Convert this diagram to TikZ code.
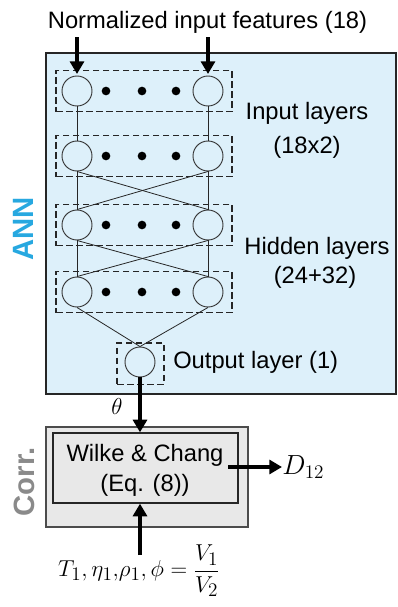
\documentclass[tikz,border=0pt]{standalone}
\usepackage[no-math]{fontspec}
\setmainfont{Liberation Sans}
\usetikzlibrary{arrows.meta}
\definecolor{annblue}{HTML}{DDF0FA}
\definecolor{annlabel}{HTML}{27A8E0}
\definecolor{corrgray}{HTML}{8A8A8A}
\definecolor{corrfill}{HTML}{E8E8E8}
\begin{document}
\begin{tikzpicture}[x=0.75pt,y=-0.75pt,
  lab/.style={font=\fontsize{17.8}{20}\selectfont, inner sep=0pt},
  neuron/.style={circle, draw=black!80, line width=0.7pt, minimum size=22.5pt, inner sep=0pt},
  dotn/.style={circle, fill=black, minimum size=6.5pt, inner sep=0pt},
  layerbox/.style={draw=black!85, line width=1pt, dash pattern=on 5pt off 2.5pt, minimum width=132pt, minimum height=31pt, inner sep=0pt},
  conn/.style={line width=0.6pt, draw=black!85},
  bigarrow/.style={line width=3pt, -{Triangle[width=10.5pt,length=9.5pt]}},
  sidelab/.style={font=\fontsize{22}{24}\selectfont\bfseries, rotate=90, inner sep=0pt},
  mathlab/.style={font=\fontsize{19}{22}\selectfont, inner sep=0pt}
]
\useasboundingbox (0,0) rectangle (398,607);
% ANN box
\node[draw=black!85, line width=1.1pt, fill=annblue, minimum width=262.5pt, minimum height=255.75pt, inner sep=0pt] (ann) at (221,223.5) {};
\node[sidelab, text=annlabel] (annlab) at (23,229) {ANN};
% title
\node[lab, anchor=base] (title) at (207.5,28) {Normalized input features (18)};
% layer boxes
\foreach \i/\y in {1/91,2/156,3/225,4/292}{
  \node[layerbox] (box\i) at (144,\y) {};
  \node[neuron] (l\i) at (77,\y) {};
  \node[neuron] (r\i) at (208,\y) {};
  \node[dotn] (da\i) at (106,\y) {};
  \node[dotn] (db\i) at (142,\y) {};
  \node[dotn] (dc\i) at (176,\y) {};
}
\node[layerbox, minimum width=35.25pt] (obox) at (140.5,363.5) {};
\node[neuron] (out) at (140,362) {};
% labels
\node[lab] (inlab1) at (307,113) {Input layers};
\node[lab] (inlab2) at (307,147) {(18x2)};
\node[lab] (hidlab1) at (317,248) {Hidden layers};
\node[lab] (hidlab2) at (315,277) {(24+32)};
\node[lab, anchor=west] (outlab) at (173,362) {Output layer (1)};
% connections
\draw[conn] (l1.south) -- (l2.north);
\draw[conn] (r1.south) -- (r2.north);
\foreach \a/\b in {2/3,3/4}{
  \draw[conn] (l\a.south) -- (l\b.north);
  \draw[conn] (r\a.south) -- (r\b.north);
  \draw[conn] (l\a.south) -- (r\b.north);
  \draw[conn] (r\a.south) -- (l\b.north);
}
\draw[conn] (l4.south) -- (out.north);
\draw[conn] (r4.south) -- (out.north);
% input arrows
\coordinate (inA) at (77,37);
\coordinate (inB) at (208,37);
\coordinate (tipA) at (77,74);
\coordinate (tipB) at (208,74);
\draw[bigarrow] (inA) -- (tipA);
\draw[bigarrow] (inB) -- (tipB);
% correlation box
\node[draw=black!70, line width=1pt, fill=corrfill, minimum width=151.5pt, minimum height=75pt, inner sep=0pt] (corr) at (147,477) {};
\node[draw=black!85, line width=1pt, fill=corrfill, minimum width=138.75pt, minimum height=52.5pt, inner sep=0pt] (wilke) at (145.5,468) {};
\node[lab] (wl1) at (145,455) {Wilke \& Chang};
\node[lab] (wl2) at (145,485) {(Eq. (8))};
\node[sidelab, text=corrgray] (corrlab) at (24,482) {Corr.};
% output arrow
\draw[bigarrow] (out.south) -- (out.south |- wilke.north);
\node[mathlab] (theta) at (117,406) {$\theta$};
% D12
\node[mathlab, font=\fontsize{20}{22}\selectfont, anchor=west] (d12) at (282,467) {$D_{12}$};
\coordinate (dstart) at (228,467);
\draw[bigarrow] (dstart) -- (d12.west);
% inputs formula
\node[mathlab] (form) at (139,571) {$\displaystyle T_1,\eta_1,\!\rho_1,\phi=\frac{V_1}{V_2}$};
\coordinate (fup) at (140,555);
\draw[bigarrow] (fup) -- (wilke.south -| fup);
\end{tikzpicture}
\end{document}
